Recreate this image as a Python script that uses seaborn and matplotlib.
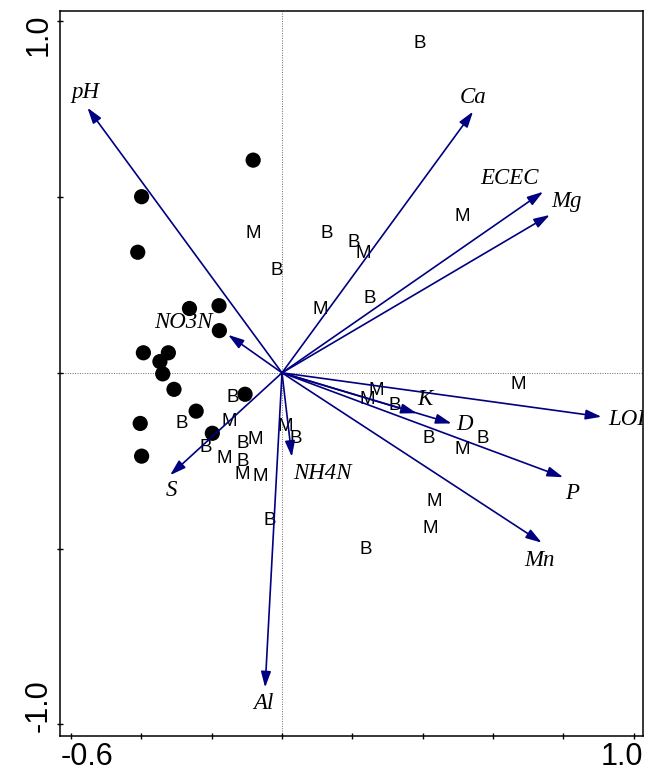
import matplotlib
matplotlib.use("Agg")
import matplotlib.pyplot as plt
import matplotlib.transforms as mtransforms
import seaborn as sns
import pandas as pd

sns.set_style("ticks")
plt.rcParams["font.family"] = ["Liberation Sans", "DejaVu Sans"]
plt.rcParams["text.color"] = "black"
plt.rcParams["xtick.color"] = "black"
plt.rcParams["ytick.color"] = "black"

# site scores, group shown as filled circles
circle_x = [-0.082, -0.399, -0.410, -0.263, -0.179, -0.178, -0.394, -0.323,
            -0.347, -0.339, -0.307, -0.105, -0.244, -0.403, -0.198, -0.399]
circle_y = [0.605, 0.501, 0.343, 0.183, 0.191, 0.120, 0.057, 0.057,
            0.032, -0.003, -0.047, -0.061, -0.109, -0.144, -0.172, -0.237]

# site scores, group "M"
m_x = [-0.082, 0.513, 0.231, 0.108, -0.150, -0.165, -0.077, -0.112,
       -0.063, 0.009, 0.269, 0.241, 0.671, 0.511, 0.432, 0.422]
m_y = [0.397, 0.446, 0.340, 0.179, -0.139, -0.243, -0.191, -0.288,
       -0.296, -0.153, -0.049, -0.077, -0.032, -0.218, -0.367, -0.442]

# site scores, group "B"
b_x = [0.392, 0.127, 0.205, -0.014, 0.250, -0.140, -0.285, -0.216,
       -0.112, -0.112, 0.040, 0.321, 0.416, 0.570, 0.238, -0.036]
b_y = [0.937, 0.397, 0.370, 0.292, 0.212, -0.070, -0.144, -0.212,
       -0.201, -0.253, -0.186, -0.092, -0.188, -0.186, -0.502, -0.421]

# environmental variable arrows
var_names = ["pH", "Ca", "ECEC", "Mg", "LOI", "K", "D", "P", "Mn",
             "NH4N", "Al", "S", "NO3N"]
var_x = [-0.553, 0.543, 0.742, 0.761, 0.908, 0.383, 0.482, 0.799, 0.738,
         0.028, -0.048, -0.318, -0.153]
var_y = [0.754, 0.743, 0.515, 0.449, -0.125, -0.115, -0.144, -0.297, -0.483,
         -0.239, -0.895, -0.291, 0.108]
label_x = [-0.560, 0.543, 0.648, 0.810, 0.980, 0.406, 0.520, 0.824, 0.733,
           0.116, -0.054, -0.313, -0.281]
label_y = [0.796, 0.782, 0.554, 0.486, -0.134, -0.077, -0.148, -0.342, -0.533,
           -0.285, -0.940, -0.334, 0.142]

xticks = [-0.6, -0.4, -0.2, 0.0, 0.2, 0.4, 0.6, 0.8, 1.0]
yticks = [-1.0, -0.5, 0.0, 0.5, 1.0]

fig = plt.figure(figsize=(6.5, 7.77), dpi=100)
ax = fig.add_axes([0.0923, 0.0528, 0.8969, 0.9334])

ax.axhline(0, color="dimgrey", ls=(0, (1, 1.5)), lw=0.7, zorder=0)
ax.axvline(0, color="dimgrey", ls=(0, (1, 1.5)), lw=0.7, zorder=0)

circles = pd.DataFrame({"x": circle_x, "y": circle_y})
sns.scatterplot(data=circles, x="x", y="y", color="black", s=120,
                edgecolor="none", ax=ax, zorder=3)

for x, y in zip(m_x, m_y):
    ax.text(x, y, "M", ha="center", va="center", fontsize=13.5, zorder=4)
for x, y in zip(b_x, b_y):
    ax.text(x, y, "B", ha="center", va="center", fontsize=13.5, zorder=4)

for name, x, y, lx, ly in zip(var_names, var_x, var_y, label_x, label_y):
    ax.annotate("", xy=(x, y), xytext=(0, 0),
                arrowprops=dict(arrowstyle="-|>,head_length=0.95,head_width=0.3",
                                mutation_scale=10, color="#000080", lw=1.2,
                                shrinkA=0, shrinkB=0),
                zorder=5)
    ax.text(lx, ly, name, ha="center", va="center", fontsize=16.5,
            family="Liberation Serif", style="italic", zorder=6, clip_on=True)

ax.set_xlim(-0.631, 1.026)
ax.set_ylim(-1.033, 1.030)
ax.set_xlabel("")
ax.set_ylabel("")

ax.set_xticks(xticks)
ax.set_xticklabels(["-0.6"] + [""] * 7 + ["1.0"])
ax.set_yticks(yticks)
ax.set_yticklabels(["-1.0", "", "", "", "1.0"], rotation=90)
ax.tick_params(bottom=True, left=True, top=False, right=False,
               direction="inout", length=4.5, width=1, color="black",
               labelsize=22, labelcolor="black", pad=2)

for s in ax.spines.values():
    s.set_visible(True)
    s.set_color("black")
    s.set_linewidth(1.1)

# keep end labels inside the frame width, like the original
xl = ax.get_xticklabels()
xl[0].set_ha("left")
xl[0].set_transform(xl[0].get_transform() +
                    mtransforms.ScaledTranslation(-0.1, 0, fig.dpi_scale_trans))
xl[-1].set_ha("right")
xl[-1].set_transform(xl[-1].get_transform() +
                     mtransforms.ScaledTranslation(0.09, 0, fig.dpi_scale_trans))
yl = ax.get_yticklabels()
yl[0].set_va("bottom")
yl[0].set_transform(yl[0].get_transform() +
                    mtransforms.ScaledTranslation(0, -0.08, fig.dpi_scale_trans))
yl[-1].set_va("top")
yl[-1].set_transform(yl[-1].get_transform() +
                     mtransforms.ScaledTranslation(0, 0.08, fig.dpi_scale_trans))

fig.savefig("out.png", dpi=100)
